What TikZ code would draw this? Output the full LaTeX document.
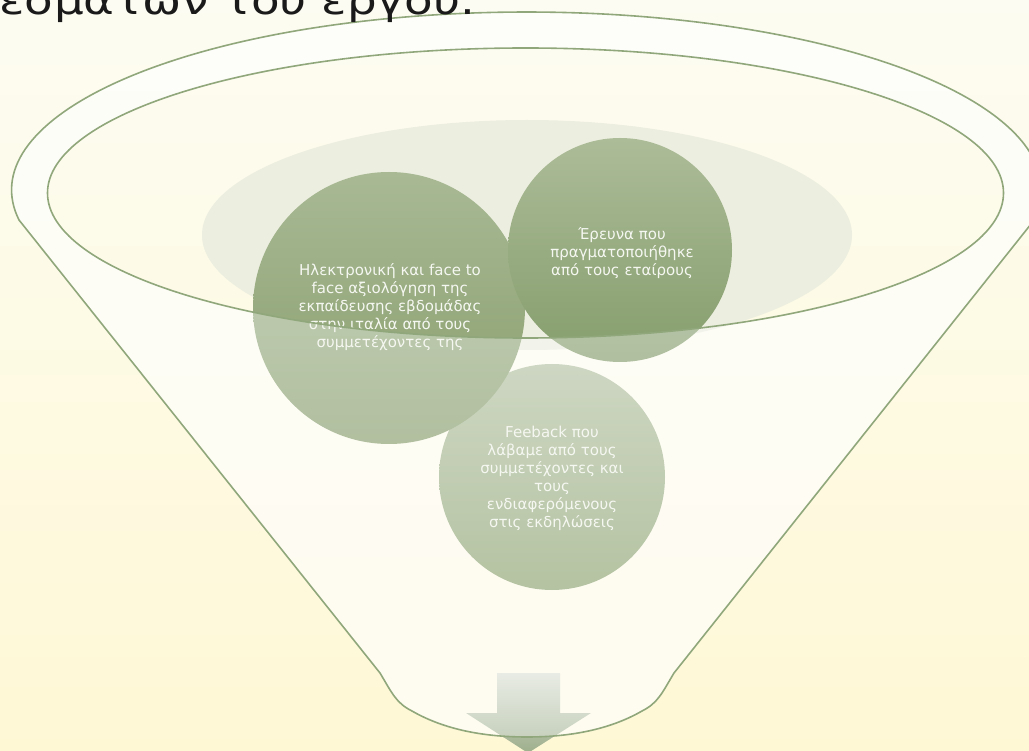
\documentclass[tikz,border=0pt]{standalone}
\usepackage{fontspec}
\setmainfont{DejaVu Sans}
\newfontfamily\titlefont[FakeStretch=1.2]{DejaVu Sans}
\definecolor{bgtop}{HTML}{FDFCF2}
\definecolor{bgbot}{HTML}{FEF8D5}
\definecolor{lineg}{HTML}{90A77B}
\definecolor{grayell}{HTML}{ECEEDF}
\definecolor{txtw}{HTML}{F5F7F1}
\definecolor{arrtop}{HTML}{DDE2D7}
\definecolor{arrbot}{HTML}{9DAF8C}
\definecolor{cAtop}{RGB}{168,185,148}
\definecolor{cAmid}{RGB}{140,164,116}
\definecolor{cAbot}{RGB}{136,158,109}
\definecolor{cBtop}{RGB}{172,188,152}
\definecolor{cBmid}{RGB}{150,172,129}
\definecolor{cBbot}{RGB}{133,157,108}
\definecolor{cCtop}{RGB}{180,194,163}
\definecolor{cCbot}{RGB}{141,163,112}
\definecolor{titlec}{HTML}{1A1A1A}
\begin{document}
\begin{tikzpicture}[x=1pt,y=-1pt,
  outline/.style={draw=lineg,line width=1.6pt},
  ctext/.style={text=txtw,align=center,font=\fontsize{15}{18}\selectfont,inner sep=0pt}]
\useasboundingbox (0,0) rectangle (1029,751);
\clip (0,0) rectangle (1029,751);
\shade[top color=bgtop,bottom color=bgbot] (0,0) rectangle (1029,751);
% funnel outline path
\def\funnelpath{(19,220) arc[start angle=170.3,end angle=369.7,x radius=515,y radius=178] -- (674,673)
  .. controls (662,693) and (658,703) .. (642,711)
  .. controls (609,730) and (569,737) .. (527,737)
  .. controls (485,737) and (445,730) .. (412,711)
  .. controls (396,703) and (392,693) .. (380,673) -- cycle}
% back of funnel
\fill[white,opacity=0.45,even odd rule] \funnelpath (525.5,193) ellipse[x radius=478,y radius=145];
% gray ellipse
\fill[grayell] (527,235) ellipse[x radius=325,y radius=115];
% arrow
\shade[top color=arrtop,bottom color=arrbot] (497,673) -- (560,673) -- (560,713) -- (591,713) -- (528,753) -- (466,713) -- (497,713) -- cycle;
% circles
\shade[top color=cCtop,bottom color=cCbot] (552,477) circle[radius=113];
\shade[top color=cAtop,middle color=cAmid,bottom color=cAbot] (389,308) circle[radius=136];
\shade[top color=cBtop,middle color=cBmid,bottom color=cBbot] (620,250) circle[radius=112];
% front overlay
\fill[white,opacity=0.35,even odd rule] \funnelpath (525.5,193) ellipse[x radius=478,y radius=145];
% texts
\node[ctext] (t1) at (390,307) {Ηλεκτρονική και face to\\face αξιολόγηση της\\εκπαίδευσης εβδομάδας\\στην ιταλία από τους\\συμμετέχοντες της};
\node[ctext] (t2) at (622,253) {Έρευνα που\\πραγματοποιήθηκε\\από τους εταίρους};
\node[ctext] (t3) at (552,478) {Feeback που\\λάβαμε από τους\\συμμετέχοντες και\\τους\\ενδιαφερόμενους\\στις εκδηλώσεις};
% outlines
\draw[outline] \funnelpath;
\draw[outline] (525.5,193) ellipse[x radius=478,y radius=145];
% title
\node[anchor=base west,inner sep=0pt,text=titlec,font=\titlefont\fontsize{39}{40}\selectfont] (title) at (-1,15) {εσμάτων του έργου.};
\end{tikzpicture}
\end{document}
